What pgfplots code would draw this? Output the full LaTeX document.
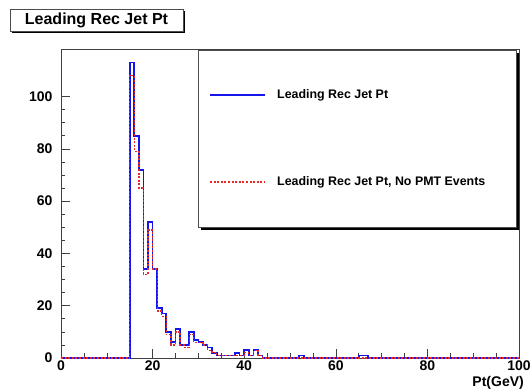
\documentclass[border=0pt]{standalone}
\usepackage{fontspec}
\setmainfont{Liberation Sans}
\usepackage{pgfplots}
\pgfplotsset{compat=1.18}
\usepackage{pgfplotstable}

\definecolor{histblue}{RGB}{20,20,235}
\definecolor{histred}{RGB}{235,40,40}

% Leading jet pt histograms: bin left edge, counts (1 GeV bins)
\pgfplotstableread{
x   all  nopmt
0   0    0
15  113  108
16  85   79
17  72   65
18  34   32
19  52   49
20  34   34
21  19   18
22  17   16
23  10   9
24  6    5
25  11   10
26  5    5
27  5    4
28  10   9
29  7    6
30  6    6
31  5    5
32  4    3
33  2    2
34  1    1
35  1    1
36  1    1
37  1    1
38  2    1
39  1    1
40  3    2
41  1    1
42  3    3
43  1    1
44  0    0
52  1    0
53  0    0
65  1    0
66  1    0
67  0    0
100 0    0
}\jetpt

\begin{document}
\begin{tikzpicture}
\useasboundingbox (-61pt,-33pt) rectangle (469pt,358pt);
\begin{axis}[
  at={(0pt,0pt)}, anchor=south west,
  scale only axis, width=458pt, height=309pt,
  xmin=0, xmax=100, ymin=0, ymax=118.2,
  clip=false,
  axis line style={black!75, line width=0.8pt},
  tick pos=left, tick align=inside,
  xtick={0,20,...,100}, ytick={0,20,...,100},
  minor tick num=3,
  major tick length=9pt, minor tick length=4.5pt,
  tick style={black!75, line width=0.6pt},
  /pgf/number format/assume math mode=true,
  tick label style={font=\bfseries\fontsize{14}{16}\selectfont},
  xticklabel style={yshift=1pt},
  yticklabel style={xshift=-5pt},
  xlabel={Pt(GeV)},
  xlabel style={at={(axis description cs:1,0)}, anchor=north east,
    inner sep=0pt, xshift=5pt, yshift=-18pt,
    font=\bfseries\fontsize{14}{16}\selectfont},
]
\addplot[const plot mark left, histblue, line width=1.7pt]
  table[x=x, y=all] {\jetpt};
\addplot[const plot mark left, histred, line width=1.3pt,
  dash pattern=on 2pt off 1.6pt]
  table[x=x, y=nopmt] {\jetpt};
\end{axis}

% legend box with drop shadow
\fill[black] (140pt,128pt) rectangle (458pt,305pt);
\filldraw[fill=white, draw=black!70, line width=0.8pt]
  (137pt,131pt) rectangle (455pt,308pt);
\draw[histblue, line width=1.7pt] (149pt,263pt) -- (204pt,263pt);
\node[anchor=west, inner sep=0pt, font=\bfseries\fontsize{12.4}{14}\selectfont]
  at (216pt,263pt) {Leading Rec Jet Pt};
\draw[histred, line width=1.3pt, dash pattern=on 2pt off 1.6pt]
  (149pt,176pt) -- (204pt,176pt);
\node[anchor=west, inner sep=0pt, font=\bfseries\fontsize{12.4}{14}\selectfont]
  at (216pt,176pt) {Leading Rec Jet Pt, No PMT Events};

% title box with drop shadow
\fill[black] (-49pt,325pt) rectangle (124pt,347pt);
\filldraw[fill=white, draw=black!70, line width=0.8pt]
  (-51pt,327pt) rectangle (122pt,349pt);
\node[inner sep=0pt, font=\bfseries\fontsize{16}{18}\selectfont]
  at (35.5pt,338pt) {Leading Rec Jet Pt};
\end{tikzpicture}
\end{document}
